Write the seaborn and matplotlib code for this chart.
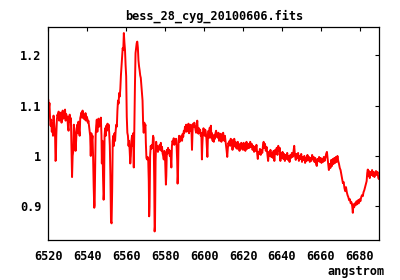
import matplotlib
matplotlib.use("Agg")
import matplotlib.pyplot as plt
import seaborn as sns
import pandas as pd
from matplotlib.ticker import FixedLocator, FuncFormatter

title = "bess_28_cyg_20100606.fits"
x_label = "angstrom"
x_ticks = [6520, 6540, 6560, 6580, 6600, 6620, 6640, 6660, 6680]
y_ticks = [0.9, 1.0, 1.1, 1.2]

wavelength = [
    6520.0, 6520.3, 6520.6, 6520.9, 6521.2, 6521.5, 6521.8, 6522.1, 6522.4, 6522.7,
    6523.0, 6523.3, 6523.5, 6523.7, 6523.9, 6524.1, 6524.4, 6524.7, 6525.0, 6525.3,
    6525.6, 6525.9, 6526.2, 6526.5, 6526.8, 6527.1, 6527.4, 6527.7, 6528.0, 6528.3,
    6528.6, 6528.9, 6529.2, 6529.5, 6529.8, 6530.1, 6530.4, 6530.7, 6531.0, 6531.3,
    6531.6, 6531.9, 6532.2, 6532.5, 6532.8, 6533.1, 6533.4, 6533.7, 6534.0, 6534.3,
    6534.6, 6534.9, 6535.2, 6535.5, 6535.8, 6536.1, 6536.4, 6536.7, 6537.0, 6537.3,
    6537.6, 6537.9, 6538.2, 6538.5, 6538.8, 6539.1, 6539.4, 6539.7, 6540.0, 6540.3,
    6540.6, 6540.9, 6541.2, 6541.5, 6541.8, 6542.1, 6542.4, 6542.7, 6543.0, 6543.3,
    6543.6, 6543.8, 6544.0, 6544.3,
    6544.6, 6544.9, 6545.2, 6545.5, 6545.8, 6546.1, 6546.4, 6546.7, 6547.0, 6547.3,
    6547.5, 6547.8, 6548.1, 6548.4, 6548.6, 6548.9, 6549.2, 6549.5, 6549.8, 6550.1,
    6550.4, 6550.7, 6551.0, 6551.3, 6551.6, 6551.9, 6552.2, 6552.5, 6552.8, 6553.1,
    6553.4, 6553.7, 6554.0, 6554.3, 6554.6, 6554.9, 6555.2, 6555.5, 6555.8, 6556.1,
    6556.4, 6556.7, 6557.0, 6557.3, 6557.6, 6557.9, 6558.2, 6558.5, 6558.8, 6559.1,
    6559.4, 6559.7, 6560.0, 6560.3, 6560.6, 6560.9, 6561.2, 6561.5, 6561.8, 6562.1,
    6562.4, 6562.7, 6563.0, 6563.3, 6563.6, 6563.9, 6564.2, 6564.5, 6564.8, 6565.1,
    6565.4, 6565.7, 6566.0, 6566.3, 6566.6, 6566.9, 6567.2, 6567.5, 6567.8, 6568.1,
    6568.4, 6568.7, 6569.0,
    6569.3, 6569.6, 6569.9, 6570.1, 6570.4, 6570.7, 6571.0, 6571.3, 6571.6, 6571.8,
    6572.0, 6572.3, 6572.6, 6572.9, 6573.2, 6573.5, 6573.8, 6574.1, 6574.4, 6574.6,
    6574.8, 6575.1, 6575.4, 6575.7, 6576.0, 6576.3, 6576.6, 6576.9, 6577.2, 6577.5,
    6577.8, 6578.1, 6578.4, 6578.7, 6579.0, 6579.3, 6579.6, 6579.9, 6580.2, 6580.4,
    6580.6, 6580.9, 6581.2, 6581.5, 6581.8, 6582.1, 6582.4, 6582.7, 6583.0, 6583.2,
    6583.5, 6583.8, 6584.1, 6584.4, 6584.7, 6585.0, 6585.3, 6585.6, 6585.9, 6586.2,
    6586.4, 6586.6, 6586.9, 6587.2, 6587.5, 6587.8, 6588.1, 6588.4, 6588.7, 6589.0,
    6589.3, 6589.6, 6589.9, 6590.2, 6590.5, 6590.8, 6591.1, 6591.4, 6591.7, 6592.0,
    6592.3, 6592.6, 6592.9, 6593.2, 6593.5,
    6593.8, 6594.1, 6594.4, 6594.7, 6595.0, 6595.3, 6595.6, 6595.9, 6596.2, 6596.5,
    6596.8, 6597.1, 6597.4, 6597.7, 6598.0, 6598.3, 6598.6, 6598.9, 6599.1, 6599.4,
    6599.7, 6600.0, 6600.3, 6600.6, 6600.9, 6601.2, 6601.5, 6601.7, 6602.0, 6602.3,
    6602.6, 6602.9, 6603.2, 6603.5, 6603.8, 6604.1, 6604.4, 6604.7, 6605.0, 6605.3,
    6605.6, 6605.9, 6606.2, 6606.5, 6606.8, 6607.1, 6607.4, 6607.7, 6608.0, 6608.3,
    6608.6, 6608.9, 6609.2, 6609.5, 6609.8, 6610.1, 6610.4, 6610.7, 6611.0, 6611.3,
    6611.6, 6611.9, 6612.2, 6612.5, 6612.8, 6613.1, 6613.4, 6613.7, 6614.0, 6614.3,
    6614.6, 6614.9, 6615.2, 6615.5, 6615.8, 6616.1, 6616.4, 6616.7, 6617.0, 6617.3,
    6617.6, 6617.9, 6618.2, 6618.5, 6618.8, 6619.1, 6619.4, 6619.7, 6620.0, 6620.3,
    6620.6, 6620.9, 6621.2, 6621.5, 6621.8, 6622.1, 6622.4, 6622.7, 6623.0,
    6623.3, 6623.7, 6624.1, 6624.5, 6624.9, 6625.3, 6625.7, 6626.1, 6626.5, 6626.9,
    6627.3, 6627.6, 6627.9, 6628.3, 6628.7, 6629.1, 6629.5, 6629.9, 6630.3, 6630.6,
    6630.9, 6631.3, 6631.7, 6632.1, 6632.5, 6632.9, 6633.3, 6633.7, 6634.1, 6634.5,
    6634.9, 6635.3, 6635.7, 6636.1, 6636.5, 6636.9, 6637.3, 6637.7, 6638.1, 6638.5,
    6638.9, 6639.2, 6639.5, 6639.9, 6640.3, 6640.7, 6641.1, 6641.5, 6641.9, 6642.3,
    6642.7, 6643.1, 6643.5, 6643.9, 6644.3, 6644.7, 6645.1, 6645.5, 6645.9, 6646.3,
    6646.7, 6647.1, 6647.5, 6647.9, 6648.3, 6648.7, 6649.1, 6649.5, 6649.9, 6650.3,
    6650.7, 6651.1, 6651.5, 6651.9, 6652.3, 6652.7, 6653.1, 6653.5, 6653.9, 6654.3,
    6654.7, 6655.1, 6655.5, 6655.9, 6656.3, 6656.7, 6657.1, 6657.5, 6657.9, 6658.3,
    6658.7, 6659.1, 6659.5, 6659.9, 6660.3, 6660.7, 6661.1, 6661.5, 6661.9, 6662.3,
    6662.7, 6663.1, 6663.4, 6663.7, 6664.1, 6664.5, 6664.9, 6665.3, 6665.7, 6666.1,
    6666.5, 6666.9, 6667.3, 6667.7, 6668.1, 6668.5, 6668.9, 6669.3, 6669.7, 6670.1,
    6670.5, 6670.9, 6671.3, 6671.7, 6672.1, 6672.5, 6672.9, 6673.3, 6673.7, 6674.1,
    6674.5, 6674.9, 6675.3, 6675.7, 6676.1, 6676.4, 6676.7, 6677.1, 6677.5, 6677.9,
    6678.3, 6678.7, 6679.1, 6679.5, 6679.9, 6680.3, 6680.7, 6681.1, 6681.5, 6681.9,
    6682.3, 6682.7, 6683.1, 6683.5, 6683.8, 6684.1, 6684.4, 6684.7, 6685.1, 6685.5,
    6685.9, 6686.3, 6686.7, 6687.1, 6687.5, 6687.9, 6688.3, 6688.7, 6689.1, 6689.5,
    6689.8,
]

flux = [
    1.112, 1.095, 1.105, 1.075, 1.060, 1.072, 1.048, 1.065, 1.040, 1.080,
    1.066, 1.050, 1.036, 0.990, 0.992, 1.040, 1.072, 1.082, 1.078, 1.088,
    1.070, 1.083, 1.076, 1.086, 1.066, 1.080, 1.090, 1.074, 1.085, 1.078,
    1.092, 1.070, 1.083, 1.072, 1.078, 1.058, 1.050, 1.076, 1.082, 1.068,
    1.075, 1.020, 0.958, 1.000, 1.009, 1.062, 1.050, 1.040, 1.010, 1.030,
    1.055, 1.062, 1.045, 1.068, 1.050, 1.040, 1.075, 1.080, 1.086, 1.076,
    1.090, 1.082, 1.074, 1.080, 1.072, 1.085, 1.070, 1.078, 1.075, 1.066,
    1.070, 1.060, 1.050, 1.040, 1.000, 1.045, 1.030, 1.040, 1.000, 0.940,
    0.897, 0.902, 0.960, 1.040,
    1.060, 1.072, 1.048, 1.066, 1.074, 1.058, 1.070, 1.062, 1.076, 1.040,
    0.985, 1.030, 0.960, 0.913, 0.925, 1.040, 1.055, 1.040, 1.060, 1.050,
    1.064, 1.055, 1.062, 1.045, 1.020, 0.960, 0.870, 0.866, 0.930, 1.030,
    1.040, 1.020, 1.045, 1.030, 1.050, 1.062, 1.058, 1.090, 1.110, 1.104,
    1.125, 1.118, 1.134, 1.160, 1.178, 1.195, 1.214, 1.210, 1.244, 1.225,
    1.210, 1.180, 1.158, 1.078, 1.046, 1.040, 1.020, 1.030, 1.010, 0.985,
    1.000, 1.030, 1.040, 1.020, 1.045, 0.977, 1.060, 1.140, 1.204, 1.215,
    1.224, 1.227, 1.215, 1.190, 1.178, 1.170, 1.160, 1.155, 1.140, 1.124,
    1.110, 1.065, 1.046,
    1.066, 1.058, 1.062, 1.026, 0.996, 0.993, 0.998, 0.994, 0.950, 0.880,
    0.900, 1.000, 1.020, 1.014, 1.022, 1.016, 1.040, 1.036, 0.950, 0.850,
    0.860, 0.990, 1.028, 1.012, 1.020, 1.008, 1.018, 1.012, 1.022, 1.015,
    1.026, 1.010, 1.018, 1.005, 1.000, 0.993, 1.010, 1.004, 0.970, 0.943,
    0.960, 1.012, 1.004, 1.016, 1.008, 1.012, 1.000, 1.010, 0.990, 0.977,
    1.020, 1.030, 1.025, 1.035, 1.022, 1.030, 1.026, 1.034, 1.020, 0.990,
    0.945, 0.960, 1.030, 1.040, 1.028, 1.038, 1.032, 1.040, 1.030, 1.044,
    1.038, 1.050, 1.046, 1.058, 1.050, 1.062, 1.048, 1.060, 1.052, 1.064,
    1.045, 1.058, 1.050, 1.062, 1.055,
    1.012, 1.050, 1.064, 1.058, 1.066, 1.060, 1.052, 1.046, 1.055, 1.070,
    1.050, 1.044, 1.055, 1.048, 1.052, 1.040, 1.045, 0.993, 1.020, 1.046,
    1.055, 1.050, 1.040, 1.052, 1.046, 1.035, 1.010, 0.998, 1.040, 1.050,
    1.036, 1.056, 1.042, 1.060, 1.035, 1.045, 1.030, 1.040, 1.028, 1.042,
    1.034, 1.046, 1.050, 1.038, 1.044, 1.036, 1.046, 1.030, 1.040, 1.034,
    1.044, 1.028, 1.040, 1.032, 1.046, 1.036, 1.030, 1.040, 1.030, 1.020,
    1.010, 0.998, 1.015, 1.026, 1.022, 1.030, 1.020, 1.034, 1.024, 1.032,
    1.012, 1.026, 1.018, 1.034, 1.020, 1.028, 1.016, 1.024, 1.014, 1.028,
    1.018, 1.024, 1.010, 1.022, 1.016, 1.026, 1.014, 1.022, 1.012, 1.026,
    1.018, 1.024, 1.010, 1.020, 1.028, 1.014, 1.022, 1.016, 1.024,
    1.016, 1.028, 1.018, 1.024, 1.012, 1.020, 1.008, 1.018, 1.010, 1.022,
    1.004, 0.994, 1.008, 1.004, 1.014, 1.002, 1.012, 1.006, 1.022, 1.028,
    1.016, 1.024, 1.010, 1.018, 1.004, 0.990, 1.008, 1.000, 1.012, 0.998,
    1.006, 0.996, 1.010, 0.990, 1.012, 1.004, 1.016, 1.002, 1.020, 1.010,
    1.016, 0.990, 1.006, 0.996, 1.008, 0.994, 1.004, 0.990, 1.002, 0.994,
    1.006, 0.992, 1.000, 0.988, 1.002, 0.996, 1.006, 0.998, 1.008, 1.020,
    1.000, 0.992, 1.004, 0.996, 1.006, 0.990, 1.000, 0.994, 1.004, 0.988,
    0.998, 0.992, 1.000, 0.986, 0.996, 0.990, 1.002, 0.992, 0.998, 0.988,
    0.996, 0.990, 1.002, 0.994, 0.998, 0.988, 0.996, 0.984, 0.980, 0.994,
    0.990, 0.998, 0.988, 0.996, 0.986, 0.994, 0.988, 0.998, 0.990, 0.996,
    1.004, 1.008, 0.996, 0.986, 0.972, 0.984, 0.976, 0.992, 0.980, 0.994,
    0.984, 0.996, 0.986, 0.998, 0.988, 1.000, 0.990, 0.984, 0.976, 0.972,
    0.963, 0.955, 0.946, 0.948, 0.936, 0.930, 0.938, 0.928, 0.922, 0.918,
    0.912, 0.914, 0.906, 0.908, 0.900, 0.887, 0.904, 0.898, 0.906, 0.902,
    0.910, 0.904, 0.912, 0.906, 0.914, 0.910, 0.918, 0.922, 0.920, 0.928,
    0.932, 0.938, 0.944, 0.950, 0.966, 0.973, 0.960, 0.970, 0.956, 0.968,
    0.962, 0.972, 0.960, 0.968, 0.958, 0.966, 0.970, 0.962, 0.968, 0.956,
    0.954,
]

df = pd.DataFrame({"wavelength": wavelength, "flux": flux})

sns.set_theme(style="white")
plt.rcParams["font.family"] = ["DejaVu Sans Mono", "DejaVu Sans"]
plt.rcParams["font.weight"] = "bold"

fig = plt.figure(figsize=(4.0, 2.8), dpi=100)
ax = fig.add_axes([48.3 / 400, 1 - 240 / 280, (379.3 - 48.3) / 400, (240 - 27) / 280])

sns.lineplot(data=df, x="wavelength", y="flux", ax=ax, color="#ff0000",
             linewidth=1.4, sort=False, estimator=None)

ax.set_xlim(6520, 6690)
ax.set_ylim(0.833, 1.256)
ax.xaxis.set_major_locator(FixedLocator(x_ticks))
ax.yaxis.set_major_locator(FixedLocator(y_ticks))
ax.yaxis.set_major_formatter(FuncFormatter(lambda v, p: f"{v:g}"))
ax.tick_params(direction="in", length=3, width=0.8, colors="black",
               top=True, right=True, labelsize=8.6, pad=5)
ax.tick_params(axis="x", pad=7)
for lab in ax.get_xticklabels() + ax.get_yticklabels():
    lab.set_fontweight("bold")
for sp in ax.spines.values():
    sp.set_visible(True)
    sp.set_color("black")
    sp.set_linewidth(0.9)
ax.set_xlabel("")
ax.set_ylabel("")
ax.set_facecolor("white")

fig.text(213.8 / 400, 1 - 16 / 280, title, ha="center", va="center",
         fontsize=8.6, fontweight="bold", color="black")
fig.text(384 / 400, 1 - 271.7 / 280, x_label, ha="right", va="center",
         fontsize=8.6, fontweight="bold", color="black")

fig.savefig("out.png", dpi=100, facecolor="white")
